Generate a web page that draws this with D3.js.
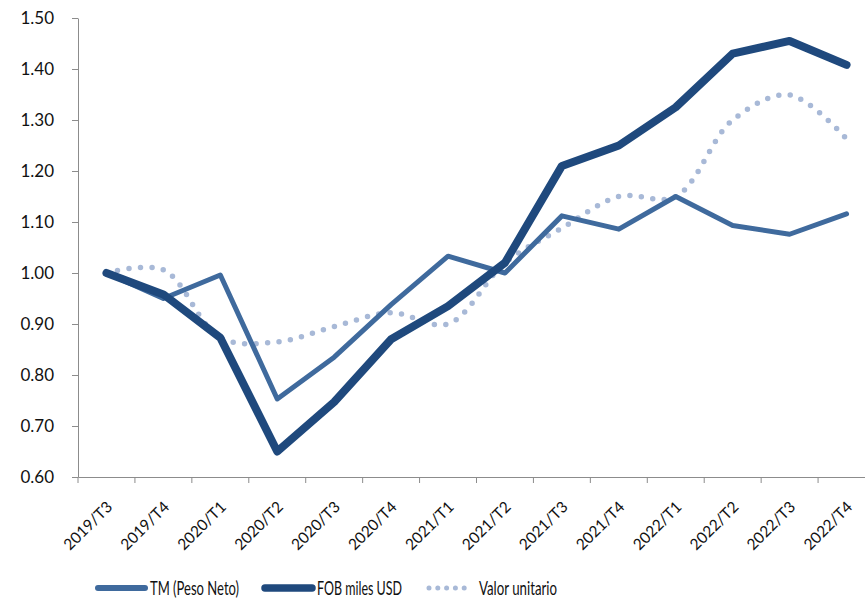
<!DOCTYPE html>
<html>
<head>
<meta charset="utf-8">
<script src="https://cdn.jsdelivr.net/npm/d3@7"></script>
<style>
  body { margin: 0; background: #fff; }
  svg { display: block; font-family: Lato, "Open Sans", sans-serif; }
</style>
</head>
<body>
<div class="chart"></div>
<script>
// data
const quarters = ["2019/T3", "2019/T4", "2020/T1", "2020/T2", "2020/T3", "2020/T4", "2021/T1",
   "2021/T2", "2021/T3", "2021/T4", "2022/T1", "2022/T2", "2022/T3", "2022/T4"];
const tmPesoNeto = [1.00, 0.95, 0.996, 0.753, 0.835, 0.938, 1.033, 1.00, 1.112, 1.086, 1.15, 1.093, 1.076, 1.116];
const fobMilesUsd = [1.00, 0.958, 0.873, 0.65, 0.747, 0.87, 0.935, 1.02, 1.21, 1.25, 1.325, 1.43, 1.455, 1.408];
const valorUnitario = [1.00, 1.006, 0.873, 0.865, 0.895, 0.922, 0.90, 1.02, 1.088, 1.15, 1.15, 1.30, 1.349, 1.263];
const yTicks = [0.6, 0.7, 0.8, 0.9, 1.0, 1.1, 1.2, 1.3, 1.4, 1.5];

// setup chart
const width = 865;
const height = 599;
const svg = d3.select(".chart")
   .append("svg")
   .attr("width", width)
   .attr("height", height);

const x = d3.scaleBand().domain(quarters).range([78, 875]);
const y = d3.scaleLinear().domain([0.6, 1.5]).range([477, 18]);
const axisColor = "#8c8c8c";

// y axis
const yAxis = svg.append("g")
   .attr("transform", "translate(78,0)")
   .call(d3.axisLeft(y).tickValues(yTicks).tickFormat(d3.format(".2f")).tickSize(6).tickSizeOuter(0));
yAxis.select(".domain").attr("stroke", axisColor);
yAxis.selectAll(".tick line").attr("stroke", axisColor);
yAxis.selectAll(".tick text")
   .attr("x", -24)
   .attr("fill", "#111")
   .style("font-size", "17px")
   .style("font-family", "Lato, sans-serif");

// x axis
const xAxis = svg.append("g")
   .attr("transform", "translate(0,477)")
   .call(d3.axisBottom(x).tickSize(0).tickSizeOuter(0));
xAxis.select(".domain").attr("stroke", axisColor);
xAxis.selectAll(".tick text").remove();
xAxis.selectAll(".tick")
   .append("line")
   .attr("x1", -x.bandwidth() / 2)
   .attr("x2", -x.bandwidth() / 2)
   .attr("y2", 6)
   .attr("stroke", axisColor);
xAxis.selectAll(".tick")
   .append("text")
   .attr("fill", "#111")
   .attr("text-anchor", "end")
   .attr("transform", "translate(3,27) rotate(-45)")
   .attr("dy", "0.35em")
   .style("font-size", "15.5px")
   .style("font-family", "Lato, sans-serif")
   .text((d) => d);

// lines
const cx = (d, i) => x(quarters[i]) + x.bandwidth() / 2;
const straight = d3.line().x(cx).y((d) => y(d));
const smooth = d3.line().x(cx).y((d) => y(d)).curve(d3.curveCatmullRom.alpha(0.5));

const series = [
   { name: "TM (Peso Neto)", values: tmPesoNeto, color: "#3f6a9d", width: 5, dash: null, line: straight },
   { name: "FOB miles USD", values: fobMilesUsd, color: "#1f497d", width: 8, dash: null, line: straight },
   { name: "Valor unitario", values: valorUnitario, color: "#a8b9d7", width: 5.5, dash: "0 11.5", line: smooth }
];

// draw order: dotted under, thick over
[series[2], series[0], series[1]].forEach((s) => {
   svg.append("path")
      .datum(s.values)
      .attr("d", s.line)
      .attr("fill", "none")
      .attr("stroke", s.color)
      .attr("stroke-width", s.width)
      .attr("stroke-linecap", "round")
      .attr("stroke-linejoin", "round")
      .attr("stroke-dasharray", s.dash);
});

// legend
const legendX = [98, 265, 429];
const legendTextWidth = [89, 85, 78];
const legend = svg.append("g");
series.forEach((s, i) => {
   const g = legend.append("g").attr("transform", `translate(${legendX[i]},588)`);
   g.append("line")
      .attr("x1", 0)
      .attr("x2", s.dash ? 44 : 47)
      .attr("stroke", s.color)
      .attr("stroke-width", s.dash ? 5 : (i === 1 ? 7.5 : 6))
      .attr("stroke-linecap", "round")
      .attr("stroke-dasharray", s.dash ? "0 8.8" : null);
   g.append("text")
      .attr("x", s.dash ? 50 : 52)
      .attr("dy", "0.36em")
      .attr("fill", "#111")
      .attr("textLength", legendTextWidth[i])
      .attr("lengthAdjust", "spacingAndGlyphs")
      .style("font-size", "20px")
      .style("font-family", "Lato, sans-serif")
      .text(s.name);
});
</script>
</body>
</html>
